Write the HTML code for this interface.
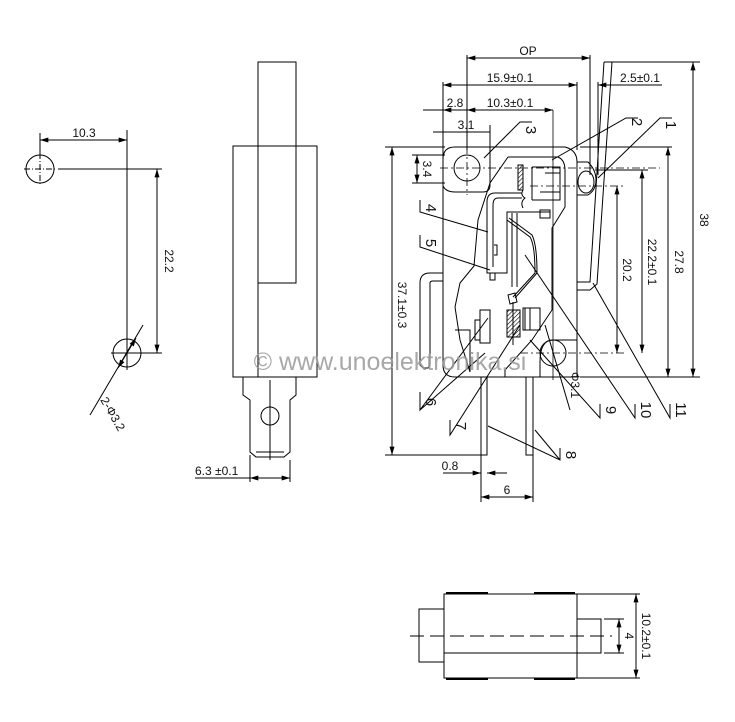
<!DOCTYPE html>
<html><head><meta charset="utf-8"><style>
html,body{margin:0;padding:0;background:#fff;}
svg{display:block;}
text{font-family:"Liberation Sans",sans-serif;fill:#111;}
</style></head><body>
<svg width="735" height="722" viewBox="0 0 735 722" xmlns="http://www.w3.org/2000/svg">
<defs>
<marker id="a" viewBox="0 0 10 6" refX="10" refY="3" markerWidth="9" markerHeight="5" orient="auto-start-reverse"><path d="M0,0 L10,3 L0,6 z" fill="#000"/></marker>
<pattern id="h" width="3" height="3" patternUnits="userSpaceOnUse" patternTransform="rotate(45)"><line x1="0" y1="0" x2="0" y2="3" stroke="#000" stroke-width="1.2"/></pattern>
</defs>
<g stroke="#000" stroke-width="1" fill="none">
<!-- LEFT hole pattern -->
<circle cx="40" cy="169" r="14"/>
<line x1="24" y1="169" x2="56" y2="169" stroke-dasharray="6,2,1,2"/>
<line x1="40" y1="153" x2="40" y2="185" stroke-dasharray="6,2,1,2"/>
<circle cx="127" cy="353" r="14"/>
<line x1="111" y1="353" x2="143" y2="353"/>
<line x1="127" y1="130" x2="127" y2="370"/>
<line x1="40" y1="133" x2="40" y2="155"/>
<line x1="40" y1="140" x2="127" y2="140" marker-start="url(#a)" marker-end="url(#a)"/>
<line x1="58" y1="169" x2="162" y2="169"/>
<line x1="140" y1="353" x2="162" y2="353"/>
<line x1="157" y1="169" x2="157" y2="353" marker-start="url(#a)" marker-end="url(#a)"/>
<line x1="90" y1="415" x2="143" y2="325"/>
<line x1="118" y1="368" x2="136" y2="338" marker-start="url(#a)" marker-end="url(#a)"/>

<!-- SIDE view -->
<rect x="233" y="146" width="84" height="231"/>
<rect x="258" y="62" width="38" height="221"/>
<line x1="258" y1="283" x2="258" y2="377"/>
<line x1="296" y1="225" x2="296" y2="232"/>
<path d="M243,377 V395 L250,400 V452 L256,457 H284 L290,452 V400 L296,395 V377"/>
<line x1="256" y1="452" x2="284" y2="452"/>
<circle cx="270" cy="416" r="9"/>
<line x1="270" y1="380" x2="270" y2="460"/>
<line x1="250" y1="455" x2="250" y2="482"/>
<line x1="290" y1="460" x2="290" y2="482"/>
<line x1="195" y1="478" x2="250" y2="478"/>
<line x1="250" y1="478" x2="290" y2="478" marker-start="url(#a)" marker-end="url(#a)"/>

<!-- MAIN view body -->
<path d="M455,147 H565 Q577,150 577,162 V377 H455 Q443,377 443,365 V159 Q443,147 455,147 Z"/>
<path d="M443,147 V186 Q446,192 455,192 H483 Q490,192 490,185 V147"/>
<circle cx="467" cy="168" r="13"/>
<circle cx="553" cy="353" r="13"/>
<path d="M540,377 V362 Q540,340 553,340 H577"/>
<!-- cavity -->
<path d="M508,157 H558 Q565,160 565,170 V207 L552,228 V310 L532,340 L505,370 V377"/>
<path d="M508,157 L490,183 L478,220 L474,266 L460,283 L455,307 L460,340 L470,372"/>
<!-- actuator block -->
<path d="M532,167 H560 V200 H532 M532,167 V200 M545,173 H560 M540,192 H560"/>
<rect x="518" y="165" width="5" height="25" fill="url(#h)"/>
<path d="M523,190 Q520,195 525,198 Q520,202 523,208"/>
<!-- U bracket -->
<path d="M522,193 H495 Q487,193 487,202 V273 H507 V212 H550 V218"/>
<path d="M522,198 H498 Q493,198 493,205 V267"/>
<rect x="540" y="210" width="10" height="8"/>
<path d="M490,273 V280 H495 V273"/>
<path d="M494,245 H497 V255 H494"/>
<!-- spring -->
<path d="M507,220 L530,237 Q535,245 535,273 L513,297"/>
<path d="M509,218 L532,235 Q537,245 537,273 L515,298"/>
<line x1="517" y1="213" x2="517" y2="287"/>
<line x1="512" y1="213" x2="512" y2="287"/>
<!-- contacts -->
<path d="M508,295 L515,293 L517,302 L510,304 Z"/>
<rect x="507" y="310" width="13" height="27" fill="url(#h)"/>
<line x1="513" y1="302" x2="513" y2="345"/>
<rect x="480" y="310" width="10" height="33"/>
<rect x="475" y="320" width="5" height="20"/>
<rect x="523" y="308" width="17" height="22"/>
<rect x="525" y="308" width="5" height="22"/>
<path d="M455,330 H470 V372"/>
<!-- plunger -->
<path d="M577,162 H588 Q596,170 596,180 Q596,190 588,195 H577"/>
<ellipse cx="586" cy="182" rx="8" ry="11"/>
<!-- lever -->
<path d="M604,62 L612,62 L597,284 L590,290 H577"/>
<path d="M604,62 L590,282 H577"/>
<!-- left terminal -->
<path d="M443,273 H430 Q420,273 420,283 V365 L423,368 H428 L430,365 V283 Q430,281 433,281 H443"/>
<!-- pins -->
<rect x="481" y="377" width="6" height="78"/>
<rect x="526" y="377" width="7" height="78"/>
<!-- centerlines -->
<line x1="440" y1="168" x2="660" y2="168" stroke-dasharray="8,3,2,3" stroke-width="0.8"/>
<line x1="467" y1="130" x2="467" y2="195" stroke-dasharray="8,3,2,3" stroke-width="0.8"/>
<line x1="530" y1="186" x2="625" y2="186" stroke-dasharray="8,3,2,3" stroke-width="0.8"/>
<line x1="520" y1="353" x2="625" y2="353" stroke-dasharray="8,3,2,3" stroke-width="0.8"/>
<line x1="553" y1="110" x2="553" y2="380" stroke-width="0.8"/>

<!-- dimensions -->
<line x1="467" y1="55" x2="467" y2="150"/>
<line x1="590" y1="55" x2="590" y2="175"/>
<line x1="467" y1="58" x2="590" y2="58" marker-start="url(#a)" marker-end="url(#a)"/>
<line x1="443" y1="82" x2="443" y2="150"/>
<line x1="577" y1="82" x2="577" y2="150"/>
<line x1="443" y1="85" x2="577" y2="85" marker-start="url(#a)" marker-end="url(#a)"/>
<line x1="598" y1="82" x2="598" y2="175"/>
<line x1="598" y1="85" x2="662" y2="85" marker-start="url(#a)"/>
<line x1="423" y1="110" x2="553" y2="110"/>
<line x1="467" y1="110" x2="443" y2="110" marker-end="url(#a)"/>
<line x1="467" y1="110" x2="553" y2="110" marker-start="url(#a)" marker-end="url(#a)"/>
<line x1="433" y1="132" x2="490" y2="132"/>
<line x1="490" y1="125" x2="490" y2="155"/>
<line x1="412" y1="155" x2="445" y2="155"/>
<line x1="412" y1="183" x2="445" y2="183"/>
<line x1="417" y1="155" x2="417" y2="183" marker-start="url(#a)" marker-end="url(#a)"/>
<line x1="385" y1="147" x2="445" y2="147"/>
<line x1="385" y1="455" x2="485" y2="455"/>
<line x1="392" y1="147" x2="392" y2="455" marker-start="url(#a)" marker-end="url(#a)"/>
<line x1="612" y1="62" x2="700" y2="62"/>
<line x1="580" y1="377" x2="700" y2="377"/>
<line x1="693" y1="62" x2="693" y2="377" marker-start="url(#a)" marker-end="url(#a)"/>
<line x1="580" y1="147" x2="672" y2="147"/>
<line x1="668" y1="147" x2="668" y2="377" marker-start="url(#a)" marker-end="url(#a)"/>
<line x1="595" y1="170" x2="648" y2="170"/>
<line x1="642" y1="170" x2="642" y2="353" marker-start="url(#a)" marker-end="url(#a)"/>
<line x1="617" y1="186" x2="617" y2="353" marker-start="url(#a)" marker-end="url(#a)"/>
<line x1="443" y1="473" x2="481" y2="473" marker-end="url(#a)"/>
<line x1="507" y1="473" x2="487" y2="473" marker-end="url(#a)"/>
<line x1="481" y1="455" x2="481" y2="502"/>
<line x1="533" y1="455" x2="533" y2="502"/>
<line x1="481" y1="497" x2="533" y2="497" marker-start="url(#a)" marker-end="url(#a)"/>
<line x1="545" y1="325" x2="570" y2="410"/>
<!-- leaders -->
<path d="M672,118 H660 L598,178"/>
<path d="M638,118 H626 L552,160"/>
<path d="M532,122 H520 L484,158"/>
<path d="M420,200 V212 L488,232"/>
<path d="M420,235 V247 L490,270"/>
<path d="M420,392 V410 L488,318 M420,410 L485,353"/>
<path d="M450,420 V435 L520,325"/>
<path d="M560,448 V460 L488,426 M560,460 L535,430"/>
<path d="M600,404 V418 L530,340"/>
<path d="M635,404 V418 L525,255"/>
<path d="M670,404 V418 L593,283"/>

<!-- BOTTOM view -->
<rect x="444" y="594" width="133" height="84"/>
<line x1="444" y1="653" x2="577" y2="653"/>
<line x1="446" y1="593" x2="488" y2="593" stroke-width="2"/>
<line x1="534" y1="593" x2="575" y2="593" stroke-width="2"/>
<line x1="446" y1="679" x2="488" y2="679" stroke-width="2"/>
<line x1="534" y1="679" x2="575" y2="679" stroke-width="2"/>
<rect x="419" y="609" width="25" height="53"/>
<rect x="577" y="619" width="24" height="34"/>
<line x1="410" y1="636" x2="612" y2="636" stroke-dasharray="14,6"/>
<line x1="577" y1="594" x2="640" y2="594"/>
<line x1="577" y1="678" x2="640" y2="678"/>
<line x1="636" y1="594" x2="636" y2="678" marker-start="url(#a)" marker-end="url(#a)"/>
<line x1="604" y1="619" x2="624" y2="619"/>
<line x1="604" y1="653" x2="624" y2="653"/>
<line x1="619" y1="619" x2="619" y2="653" marker-start="url(#a)" marker-end="url(#a)"/>
</g>

<g font-size="12">
<text x="84" y="137" text-anchor="middle">10.3</text>
<text x="165" y="261" text-anchor="middle" transform="rotate(90 165 261)">22.2</text>
<text x="100" y="400" transform="rotate(60 100 400)">2-Φ3.2</text>
<text x="195" y="475">6.3 ±0.1</text>
<text x="528" y="55" text-anchor="middle">OP</text>
<text x="510" y="82" text-anchor="middle">15.9±0.1</text>
<text x="640" y="82" text-anchor="middle">2.5±0.1</text>
<text x="455" y="107" text-anchor="middle">2.8</text>
<text x="510" y="107" text-anchor="middle">10.3±0.1</text>
<text x="466" y="129" text-anchor="middle">3.1</text>
<text x="423" y="169" text-anchor="middle" transform="rotate(90 423 169)">3.4</text>
<text x="398" y="305" text-anchor="middle" transform="rotate(90 398 305)">37.1±0.3</text>
<text x="700" y="220" text-anchor="middle" transform="rotate(90 700 220)">38</text>
<text x="675" y="262" text-anchor="middle" transform="rotate(90 675 262)">27.8</text>
<text x="648" y="262" text-anchor="middle" transform="rotate(90 648 262)">22.2±0.1</text>
<text x="623" y="270" text-anchor="middle" transform="rotate(90 623 270)">20.2</text>
<text x="571" y="385" text-anchor="middle" transform="rotate(90 571 385)">Φ3.1</text>
<text x="450" y="470" text-anchor="middle">0.8</text>
<text x="507" y="494" text-anchor="middle">6</text>
<text x="625" y="636" text-anchor="middle" transform="rotate(90 625 636)">4</text>
<text x="642" y="636" text-anchor="middle" transform="rotate(90 642 636)">10.2±0.1</text>
</g>
<g font-size="15">
<text x="666" y="125" text-anchor="middle" transform="rotate(90 666 125)">1</text>
<text x="632" y="122" text-anchor="middle" transform="rotate(90 632 122)">2</text>
<text x="526" y="130" text-anchor="middle" transform="rotate(90 526 130)">3</text>
<text x="426" y="208" text-anchor="middle" transform="rotate(90 426 208)">4</text>
<text x="426" y="243" text-anchor="middle" transform="rotate(90 426 243)">5</text>
<text x="426" y="402" text-anchor="middle" transform="rotate(90 426 402)">6</text>
<text x="456" y="426" text-anchor="middle" transform="rotate(90 456 426)">7</text>
<text x="566" y="455" text-anchor="middle" transform="rotate(90 566 455)">8</text>
<text x="606" y="410" text-anchor="middle" transform="rotate(90 606 410)">9</text>
<text x="641" y="410" text-anchor="middle" transform="rotate(90 641 410)">10</text>
<text x="676" y="410" text-anchor="middle" transform="rotate(90 676 410)">11</text>
</g>
<text x="390" y="370" text-anchor="middle" font-size="25" style="fill:#9a9a9a;opacity:0.85">© www.unoelektronika.si</text>
</svg>
</body></html>
